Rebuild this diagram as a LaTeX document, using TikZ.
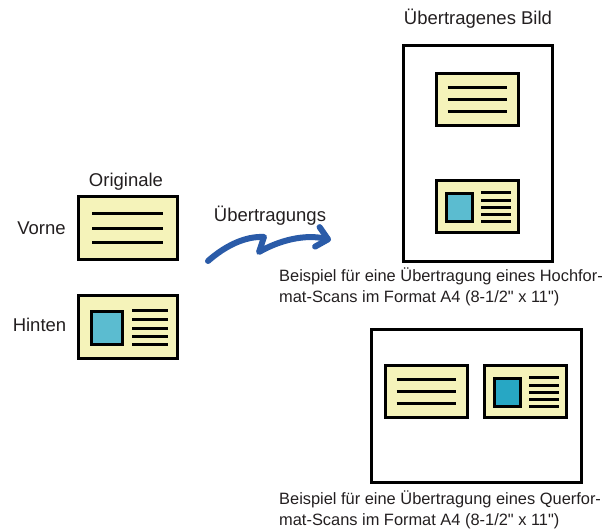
\documentclass[tikz,border=0pt]{standalone}
\usepackage{fontspec}
\setmainfont{Liberation Sans}[Ligatures=TeXOff]
\usetikzlibrary{arrows.meta}
\definecolor{cardfill}{HTML}{F5F3BA}
\definecolor{photoA}{HTML}{5BBCD0}
\definecolor{photoB}{HTML}{27A7C4}
\definecolor{arrowblue}{HTML}{2A5BA8}
\definecolor{txt}{HTML}{231F20}
\tikzset{
  card/.style={draw=black, fill=cardfill, line width=3pt},
  bar/.style={draw=black, line width=3pt},
  photo/.style={draw=black, line width=3pt},
  page/.style={draw=black, line width=3pt},
  lbl/.style={text=txt, inner sep=0pt, anchor=base, font=\fontsize{18.5}{22}\selectfont},
  captext/.style={text=txt, inner sep=0pt, anchor=base west, font=\fontsize{16.4}{21}\selectfont},
  flow/.style={draw=arrowblue, line width=6pt, line cap=round, line join=round,
    -{Straight Barb[length=11pt,width=20pt,round]}},
  textcard/.pic={
    \draw[card] (0,0) rectangle (99,63);
    \foreach \yy in {17,32,46} \draw[bar] (14,\yy) -- (85,\yy);
  },
  piccard/.pic={
    \draw[card] (0,0) rectangle (99,63);
    \draw[photo, fill=#1] (13,16) rectangle (44,49);
    \foreach \yy in {15,24,33,41,49} \draw[bar] (54,\yy) -- (90,\yy);
  }
}
\begin{document}
\begin{tikzpicture}[x=1pt,y=-1pt]
\useasboundingbox (0,0) rectangle (614,530);
% originals
\node[lbl] (orig) at (126,186) {Originale};
\node[lbl] (vorne) at (41.5,234) {Vorne};
\node[lbl] (hinten) at (39.5,331) {Hinten};
\pic (front) at (78,196) {textcard};
\pic (back) at (78,295) {piccard=photoA};
% transfer arrow
\node[lbl] (uebl) at (270,221) {Übertragungs};
\coordinate (a0) at (208,261);
\coordinate (a1) at (264,237);
\coordinate (a2) at (259,252);
\coordinate (a3) at (331,240);
\draw[flow] (a0) .. controls (225,246) and (245,236) .. (a1) -- (a2) .. controls (280,240) and (305,234) .. (a3);
% portrait result
\node[lbl] (title) at (478,24) {Übertragenes Bild};
\draw[page] (403,45) rectangle (552,261);
\pic[scale=0.838] (ptop) at (436,73) {textcard};
\pic[scale=0.838] (pbot) at (436,180) {piccard=photoA};
\node[captext] (c1a) at (279,281) {Beispiel für eine Übertragung eines Hochfor-};
\node[captext] (c1b) at (279,302) {mat-Scans im Format A4 (8-1/2" x 11")};
% landscape result
\draw[page] (371,329) rectangle (581,482);
\pic[scale=0.838] (lleft) at (385,365) {textcard};
\pic[scale=0.838] (lright) at (484,365) {piccard=photoB};
\node[captext] (c2a) at (279,504) {Beispiel für eine Übertragung eines Querfor-};
\node[captext] (c2b) at (279,525) {mat-Scans im Format A4 (8-1/2" x 11")};
\end{tikzpicture}
\end{document}
